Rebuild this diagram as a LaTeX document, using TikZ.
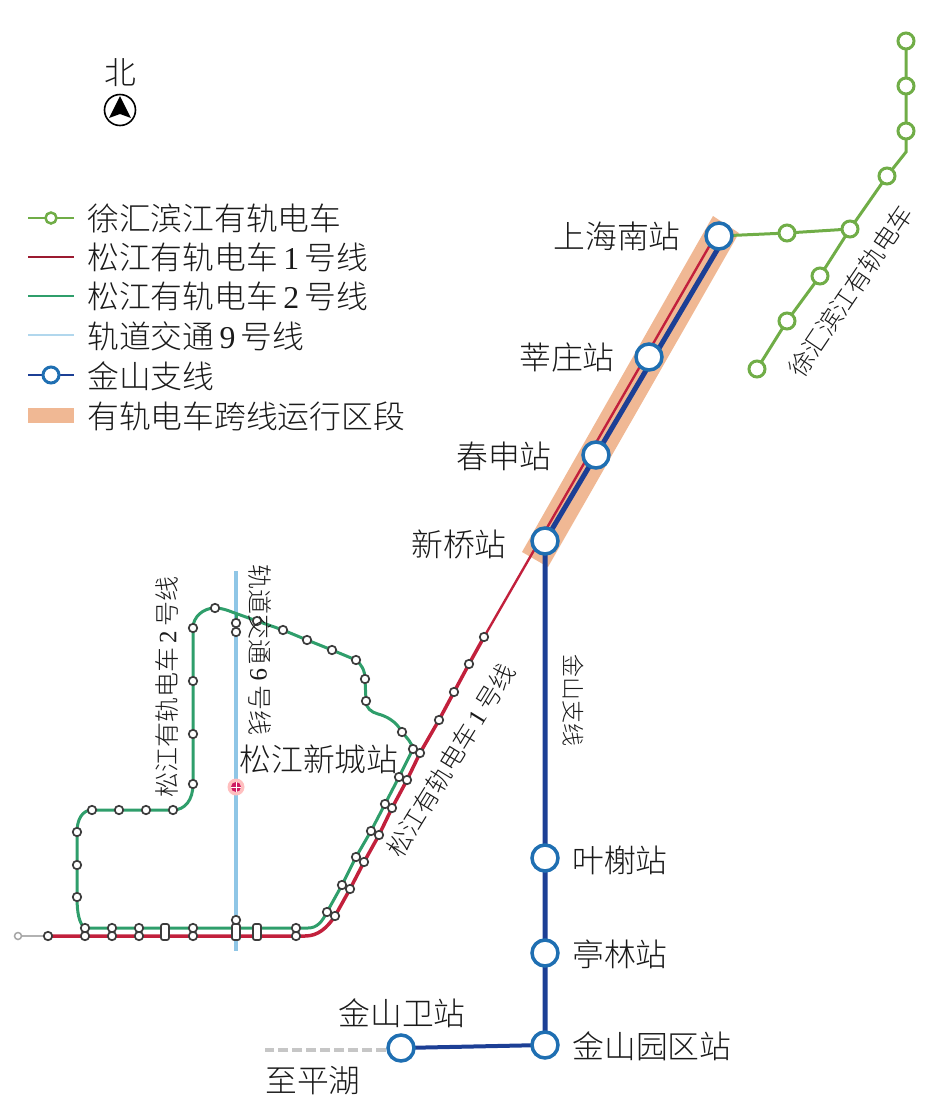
\documentclass[tikz,border=0pt]{standalone}
\usepackage{fontspec}
\usetikzlibrary{backgrounds}
\setmainfont{Liberation Serif}
\newfontfamily\cjk[UprightFont=* Light]{Noto Sans CJK SC}
\newcommand{\numb}[1]{\,{\rmfamily #1}\,}
\definecolor{xhgreen}{HTML}{70AD47}
\definecolor{soone}{HTML}{C2203C}
\definecolor{sotwo}{HTML}{2F9E6B}
\definecolor{lineblue}{HTML}{8FC6E6}
\definecolor{jsnavy}{HTML}{1C3F95}
\definecolor{jsring}{HTML}{1F6FB2}
\definecolor{bandorange}{HTML}{F0B894}
\definecolor{inktext}{HTML}{1A1A1A}
\definecolor{stopink}{HTML}{3C3C3C}
\begin{document}
\begin{tikzpicture}[x=1pt,y=1pt]
    \tikzstyle{lab}=[font=\cjk\fontsize{31.8}{32}\selectfont,text=inktext,inner sep=0pt]
    \tikzstyle{sidelab}=[font=\cjk\fontsize{25}{25}\selectfont,text=inktext,inner sep=0pt]
    \tikzstyle{keylab}=[lab,anchor=west]
    \tikzstyle{bigstn}=[circle,draw=jsring,fill=white,line width=3.5pt,minimum size=26pt,inner sep=0pt]
    \tikzstyle{xhstop}=[circle,draw=xhgreen,fill=white,line width=3pt,minimum size=16pt,inner sep=0pt]
    \tikzstyle{tramstop}=[circle,draw=stopink,fill=white,line width=1.7pt,minimum size=8.5pt,inner sep=0pt]
    \tikzstyle{longstop}=[rectangle,rounded corners=2pt,draw=stopink,fill=white,line width=1.7pt,minimum width=8pt,minimum height=16pt,inner sep=0pt]
    \tikzstyle{xhline}=[draw=xhgreen,line width=3pt]
    \tikzstyle{oneline}=[draw=soone,line width=3.5pt]
    \tikzstyle{twoline}=[draw=sotwo,line width=3pt]
    \tikzstyle{nineline}=[draw=lineblue,line width=3.5pt]
    \tikzstyle{jsline}=[draw=jsnavy,line width=5pt]
    \useasboundingbox (0,0) rectangle (941,-1109);

    \node [lab] (north) at (120,-73) {北};
    \node [circle,draw=black,fill=white,line width=1.6pt,minimum size=31pt,inner sep=0pt] (compass) at (120,-110) {};
    \fill [black] (120,-96) -- (131,-118) -- (120,-114) -- (109,-118) -- cycle;

    \coordinate (ka1) at (28,-218);
    \coordinate (kb1) at (74,-218);
    \coordinate (ka2) at (28,-257);
    \coordinate (kb2) at (74,-257);
    \coordinate (ka3) at (28,-296);
    \coordinate (kb3) at (74,-296);
    \coordinate (ka4) at (28,-335);
    \coordinate (kb4) at (74,-335);
    \coordinate (ka5) at (28,-375);
    \coordinate (kb5) at (74,-375);
    \draw [draw=xhgreen,line width=2.5pt] (ka1) -- (kb1);
    \draw [draw=soone!80!black,line width=2.5pt] (ka2) -- (kb2);
    \draw [draw=sotwo,line width=2.5pt] (ka3) -- (kb3);
    \draw [draw=lineblue!70,line width=2.5pt] (ka4) -- (kb4);
    \draw [draw=jsnavy,line width=2.2pt] (ka5) -- (kb5);
    \node [circle,draw=xhgreen,fill=white,line width=2.5pt,minimum size=11pt,inner sep=0pt] (keyxh) at (51,-218) {};
    \node [circle,draw=jsring,fill=white,line width=3pt,minimum size=16pt,inner sep=0pt] (keyjs) at (51,-375) {};
    \node [rectangle,fill=bandorange,minimum width=46pt,minimum height=15pt,inner sep=0pt] (keyband) at (51,-415) {};
    \node [keylab] (txt1) at (87,-218) {徐汇滨江有轨电车};
    \node [keylab] (txt2) at (87,-257) {松江有轨电车\numb{1}号线};
    \node [keylab] (txt3) at (87,-296) {松江有轨电车\numb{2}号线};
    \node [keylab] (txt4) at (87,-336) {轨道交通\numb{9}号线};
    \node [keylab] (txt5) at (87,-376) {金山支线};
    \node [keylab] (txt6) at (87,-416) {有轨电车跨线运行区段};

    \node [bigstn] (shnan) at (719,-236) {};
    \node [bigstn] (xinz) at (649,-357) {};
    \node [bigstn] (chshen) at (596,-455) {};
    \node [bigstn] (xinq) at (545,-541) {};
    \node [bigstn] (yexie) at (545,-858) {};
    \node [bigstn] (tingl) at (545,-953) {};
    \node [bigstn] (yuanq) at (545,-1045) {};
    \node [bigstn] (jswei) at (401,-1048) {};
    \coordinate (pinghu) at (265,-1050);
    \coordinate (jstop) at (723,-240);

    \node [xhstop] (xh1) at (906,-41) {};
    \node [xhstop] (xh2) at (906,-86) {};
    \node [xhstop] (xh3) at (906,-131) {};
    \coordinate (xhbend) at (906,-152);
    \node [xhstop] (xh4) at (887,-176) {};
    \node [xhstop] (xh5) at (850,-229) {};
    \node [xhstop] (xh6) at (820,-276) {};
    \node [xhstop] (xh7) at (787,-321) {};
    \node [xhstop] (xh8) at (757,-369) {};
    \node [xhstop] (xh9) at (787,-233) {};

    \coordinate (ntop) at (236,-571);
    \coordinate (nbot) at (236,-951);
    \node [tramstop] (n1) at (236,-623) {};
    \node [tramstop] (n2) at (236,-632) {};
    \coordinate (nstub) at (236,-613);
    \node [tramstop] (n3) at (236,-920) {};
    \node [circle,fill=pink,minimum size=17pt,inner sep=0pt] (sjxc) at (236,-787) {};
    \node [circle,fill=soone!80!magenta,minimum size=10pt,inner sep=0pt] (sjxci) at (236,-787) {};
    \draw [white,line width=1pt] (sjxci.west) -- (sjxci.east);
    \draw [white,line width=1pt] (sjxci.north) -- (sjxci.south);

    \coordinate (rtop) at (714,-238);
    \node [tramstop] (r1) at (484,-637) {};
    \node [tramstop] (r2) at (469,-664) {};
    \node [tramstop] (r3) at (454,-692) {};
    \node [tramstop] (r4) at (439,-720) {};
    \node [tramstop] (r5) at (420,-753) {};
    \node [tramstop] (r6) at (407,-780) {};
    \node [tramstop] (r7) at (392,-808) {};
    \node [tramstop] (r8) at (379,-835) {};
    \node [tramstop] (r9) at (364,-862) {};
    \node [tramstop] (r10) at (350,-889) {};
    \node [tramstop] (r11) at (335,-916) {};
    \node [tramstop] (r12) at (296,-936) {};
    \node [tramstop] (r13) at (193,-936) {};
    \node [tramstop] (r14) at (139,-936) {};
    \node [tramstop] (r15) at (112,-936) {};
    \node [tramstop] (r16) at (85,-936) {};
    \node [tramstop] (r17) at (48,-936) {};
    \node [circle,draw=gray!70,fill=white,line width=1.5pt,minimum size=7pt,inner sep=0pt] (r18) at (18,-936) {};

    \node [tramstop] (g1) at (85,-928) {};
    \node [tramstop] (g2) at (112,-928) {};
    \node [tramstop] (g3) at (139,-928) {};
    \node [tramstop] (g4) at (193,-928) {};
    \node [tramstop] (g5) at (296,-928) {};
    \node [tramstop] (g6) at (327,-912) {};
    \node [tramstop] (g7) at (342,-885) {};
    \node [tramstop] (g8) at (356,-857) {};
    \node [tramstop] (g9) at (371,-831) {};
    \node [tramstop] (g10) at (385,-804) {};
    \node [tramstop] (g11) at (399,-777) {};
    \node [tramstop] (g12) at (413,-749) {};
    \node [tramstop] (g13) at (402,-732) {};
    \node [tramstop] (g14) at (366,-701) {};
    \node [tramstop] (g15) at (365,-679) {};
    \node [tramstop] (g16) at (356,-660) {};
    \node [tramstop] (g17) at (332,-650) {};
    \node [tramstop] (g18) at (307,-640) {};
    \node [tramstop] (g19) at (283,-630) {};
    \node [tramstop] (g20) at (257,-621) {};
    \node [tramstop] (g21) at (215,-608) {};
    \node [tramstop] (g22) at (193,-628) {};
    \node [tramstop] (g23) at (193,-681) {};
    \node [tramstop] (g24) at (193,-734) {};
    \node [tramstop] (g25) at (193,-784) {};
    \node [tramstop] (g26) at (173,-810) {};
    \node [tramstop] (g27) at (146,-810) {};
    \node [tramstop] (g28) at (119,-810) {};
    \node [tramstop] (g29) at (92,-810) {};
    \node [tramstop] (g30) at (77,-832) {};
    \node [tramstop] (g31) at (77,-865) {};
    \node [tramstop] (g32) at (77,-897) {};
    \node [longstop] (d1) at (165,-932) {};
    \node [longstop] (d2) at (236,-932) {};
    \node [longstop] (d3) at (257,-932) {};

    \begin{pgfonlayer}{background}
    \fill [bandorange] (713,-216) -- (739,-233) -- (548,-567) -- (522,-552) -- cycle;
    \draw [nineline] (ntop) -- (nbot);
    \draw [draw=soone,line width=2.4pt] (rtop) -- (r1.center);
    \draw [oneline] (r1.center) -- (r2.center) -- (r3.center) -- (r4.center) -- (r5.center) -- (r6.center) -- (r7.center) -- (r8.center) -- (r9.center) -- (r10.center) -- (r11.center) .. controls (327,-928) and (318,-936) .. (305,-936) -- (r12.center) -- (r13.center) -- (r14.center) -- (r15.center) -- (r16.center) -- (r17.center);
    \draw [draw=gray!60,line width=2.5pt] (r17.center) -- (r18.center);
    \draw [twoline] (g1.center) -- (g2.center) -- (g3.center) -- (g4.center) -- (g5.center) -- (308,-928) .. controls (317,-928) and (322,-922) .. (g6.center) -- (g7.center) -- (g8.center) -- (g9.center) -- (g10.center) -- (g11.center) -- (g12.center) .. controls (412,-743) and (407,-738) .. (g13.center) .. controls (396,-721) and (386,-716) .. (378,-714) .. controls (371,-712) and (366,-708) .. (g14.center) -- (g15.center) .. controls (365,-670) and (361,-664) .. (g16.center) -- (g17.center) -- (g18.center) -- (g19.center) -- (g20.center) -- (232,-612) .. controls (227,-610) and (221,-608) .. (g21.center) .. controls (203,-608) and (193,-617) .. (g22.center) -- (g23.center) -- (g24.center) -- (g25.center) .. controls (193,-800) and (185,-810) .. (g26.center) -- (g27.center) -- (g28.center) -- (g29.center) .. controls (82,-810) and (77,-820) .. (g30.center) -- (g31.center) -- (g32.center) .. controls (77,-912) and (79,-924) .. (g1.center);
    \draw [twoline] (n1.center) -- (nstub);
    \draw [xhline] (xh1.center) -- (xh2.center) -- (xh3.center) -- (xhbend) -- (xh4.center) -- (xh5.center) -- (xh6.center) -- (xh7.center) -- (xh8.center);
    \draw [xhline] (shnan.center) -- (xh9.center) -- (xh5.center);
    \draw [jsline] (jstop) -- (chshen.center) -- (xinq.center) -- (yexie.center) -- (tingl.center) -- (yuanq.center);
    \draw [draw=jsnavy,line width=4pt] (yuanq.center) -- (jswei.center);
    \draw [draw=gray!45,line width=4pt,dash pattern=on 10pt off 4pt] ([yshift=-2pt]jswei.west) -- (pinghu);
    \end{pgfonlayer}

    \node [lab] (lbshn) at (617,-236) {上海南站};
    \node [lab] (lbxz) at (567,-358) {莘庄站};
    \node [lab] (lbcs) at (504,-456) {春申站};
    \node [lab] (lbxq) at (459,-544) {新桥站};
    \node [lab] (lbsj) at (319,-759) {松江新城站};
    \node [lab] (lbyx) at (620,-860) {叶榭站};
    \node [lab] (lbtl) at (620,-954) {亭林站};
    \node [lab] (lbyq) at (652,-1046) {金山园区站};
    \node [lab] (lbjw) at (402,-1013) {金山卫站};
    \node [lab] (lbph) at (313,-1081) {至平湖};
    \node [sidelab,rotate=56] (sdxh) at (851,-291) {徐汇滨江有轨电车};
    \node [sidelab,rotate=90] (sdtwo) at (167,-687) {松江有轨电车\numb{2}号线};
    \node [sidelab,rotate=-90] (sdnine) at (260,-650) {轨道交通\numb{9}号线};
    \node [sidelab,rotate=-90,font=\cjk\fontsize{23}{23}\selectfont] (sdjs) at (573,-700) {金山支线};
    \node [sidelab,rotate=58.5] (sdone) at (451,-760) {松江有轨电车\numb{1}号线};
\end{tikzpicture}
\end{document}
